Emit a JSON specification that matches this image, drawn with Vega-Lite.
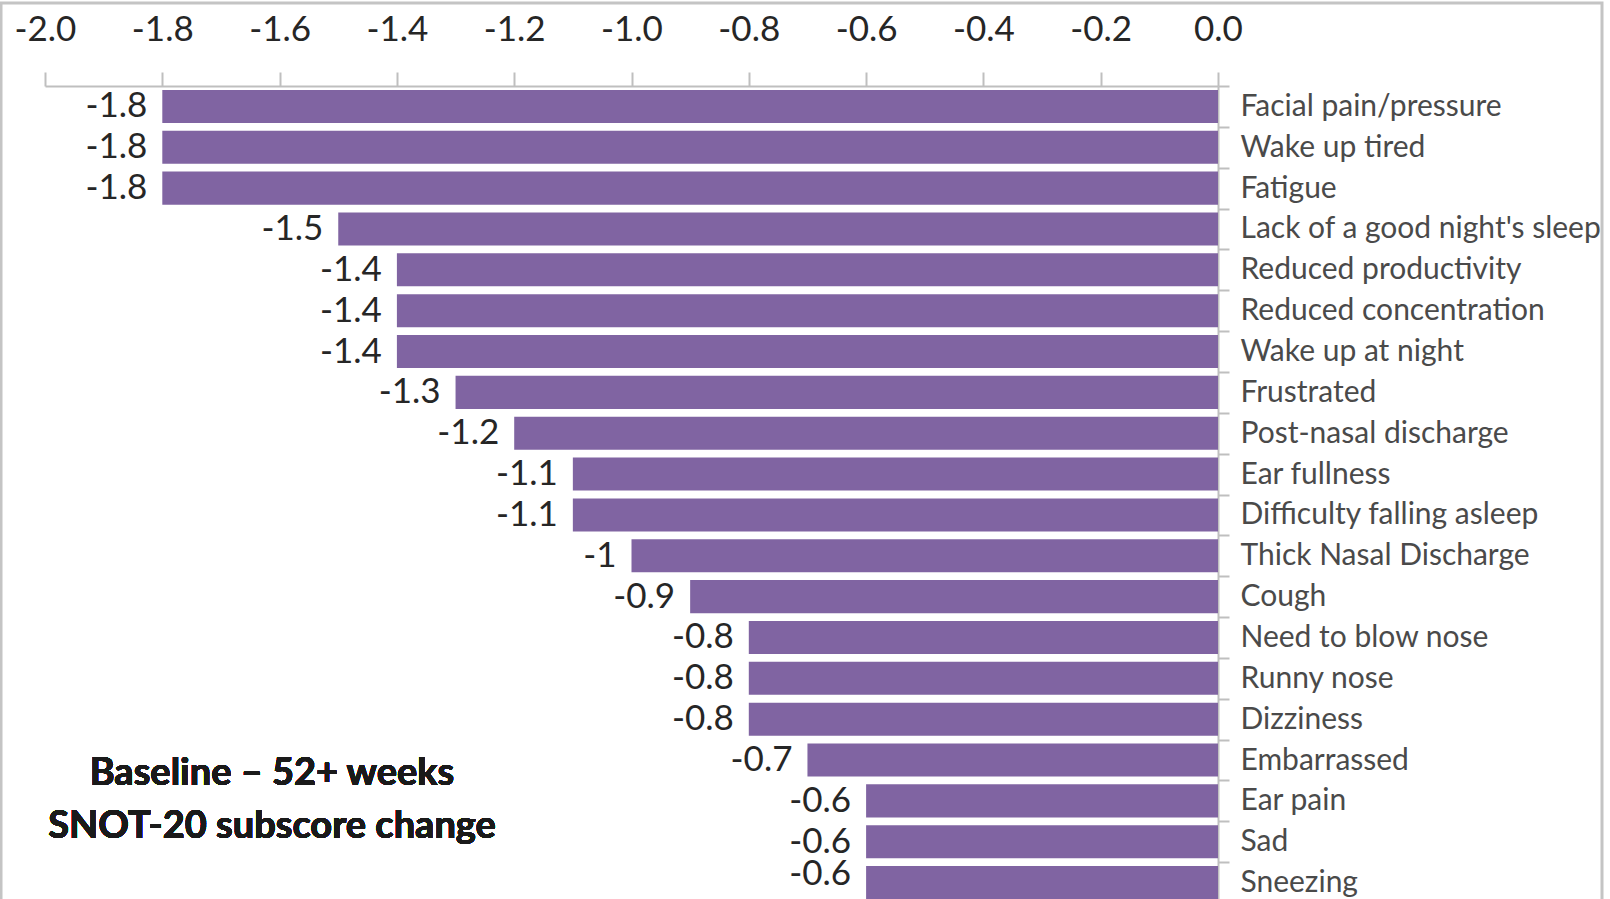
{
  "$schema": "https://vega.github.io/schema/vega-lite/v6.json",
  "autosize": {"type": "none"},
  "padding": {"left": 1, "top": 3, "right": 8, "bottom": -6},
  "width": 1601,
  "height": 902,
  "background": "white",
  "config": {
    "view": {"stroke": "#c4c4c4", "strokeWidth": 3},
    "font": "Lato",
    "locale": {"number": {"decimal": ".", "thousands": ",", "grouping": [3], "currency": ["$", ""], "minus": "-"}}
  },
  "data": {
    "values": [
      {"cat": "Facial pain/pressure", "value": -1.8},
      {"cat": "Wake up tired", "value": -1.8},
      {"cat": "Fatigue", "value": -1.8},
      {"cat": "Lack of a good night's sleep", "value": -1.5},
      {"cat": "Reduced productivity", "value": -1.4},
      {"cat": "Reduced concentration", "value": -1.4},
      {"cat": "Wake up at night", "value": -1.4},
      {"cat": "Frustrated", "value": -1.3},
      {"cat": "Post-nasal discharge", "value": -1.2},
      {"cat": "Ear fullness", "value": -1.1},
      {"cat": "Difficulty falling asleep", "value": -1.1},
      {"cat": "Thick Nasal Discharge", "value": -1},
      {"cat": "Cough", "value": -0.9},
      {"cat": "Need to blow nose", "value": -0.8},
      {"cat": "Runny nose", "value": -0.8},
      {"cat": "Dizziness", "value": -0.8},
      {"cat": "Embarrassed", "value": -0.7},
      {"cat": "Ear pain", "value": -0.6},
      {"cat": "Sad", "value": -0.6},
      {"cat": "Sneezing", "value": -0.6}
    ]
  },
  "encoding": {
    "y": {
      "field": "cat",
      "type": "nominal",
      "sort": null,
      "scale": {"range": [83, 900], "paddingInner": 0, "paddingOuter": 0},
      "axis": {
        "orient": "right",
        "offset": -384,
        "title": null,
        "tickBand": "extent",
        "tickSize": 11,
        "tickWidth": 2,
        "tickColor": "#bfbfbf",
        "domainColor": "#bfbfbf",
        "domainWidth": 2,
        "labelPadding": 11,
        "labelFontSize": 30,
        "labelColor": "#4a4a4a",
        "labelFont": "Lato",
        "labelLimit": 0
      }
    }
  },
  "layer": [
    {
      "mark": {"type": "bar", "color": "#8064a2", "height": {"band": 0.81}},
      "encoding": {
        "x": {
          "field": "value",
          "type": "quantitative",
          "scale": {"domain": [-2, 0], "range": [44, 1217], "nice": false, "zero": false},
          "axis": {
            "orient": "top",
            "offset": -83,
            "title": null,
            "values": [-2, -1.8, -1.6, -1.4, -1.2, -1, -0.8, -0.6, -0.4, -0.2, 0],
            "format": ".1f",
            "grid": false,
            "labelFlush": false,
            "labelOverlap": false,
            "tickSize": 14,
            "tickWidth": 2,
            "tickColor": "#bfbfbf",
            "domainColor": "#bfbfbf",
            "domainWidth": 2,
            "labelPadding": 25,
            "labelFontSize": 35,
            "labelColor": "#262626",
            "labelFont": "Lato"
          }
        }
      }
    },
    {
      "transform": [{"filter": "datum.cat !== 'Sneezing'"}],
      "mark": {"type": "text", "align": "right", "baseline": "middle", "dx": -15, "fontSize": 35, "color": "#262626"},
      "encoding": {
        "x": {"field": "value", "type": "quantitative"},
        "text": {"field": "value", "type": "nominal"}
      }
    },
    {
      "transform": [{"filter": "datum.cat === 'Sneezing'"}],
      "mark": {"type": "text", "align": "right", "baseline": "middle", "dx": -15, "dy": -9, "fontSize": 35, "color": "#262626"},
      "encoding": {
        "x": {"field": "value", "type": "quantitative"},
        "text": {"field": "value", "type": "nominal"}
      }
    },
    {
      "mark": {
        "type": "text",
        "text": ["Baseline – 52+ weeks", "SNOT-20 subscore change"],
        "align": "center",
        "baseline": "middle",
        "lineHeight": 53,
        "fontSize": 38,
        "fontWeight": "bold",
        "color": "#1a1a1a",
        "dy": -27
      },
      "encoding": {
        "x": {"datum": -1.613, "type": "quantitative"},
        "y": {"datum": "Ear pain", "type": "nominal"}
      }
    }
  ]
}
